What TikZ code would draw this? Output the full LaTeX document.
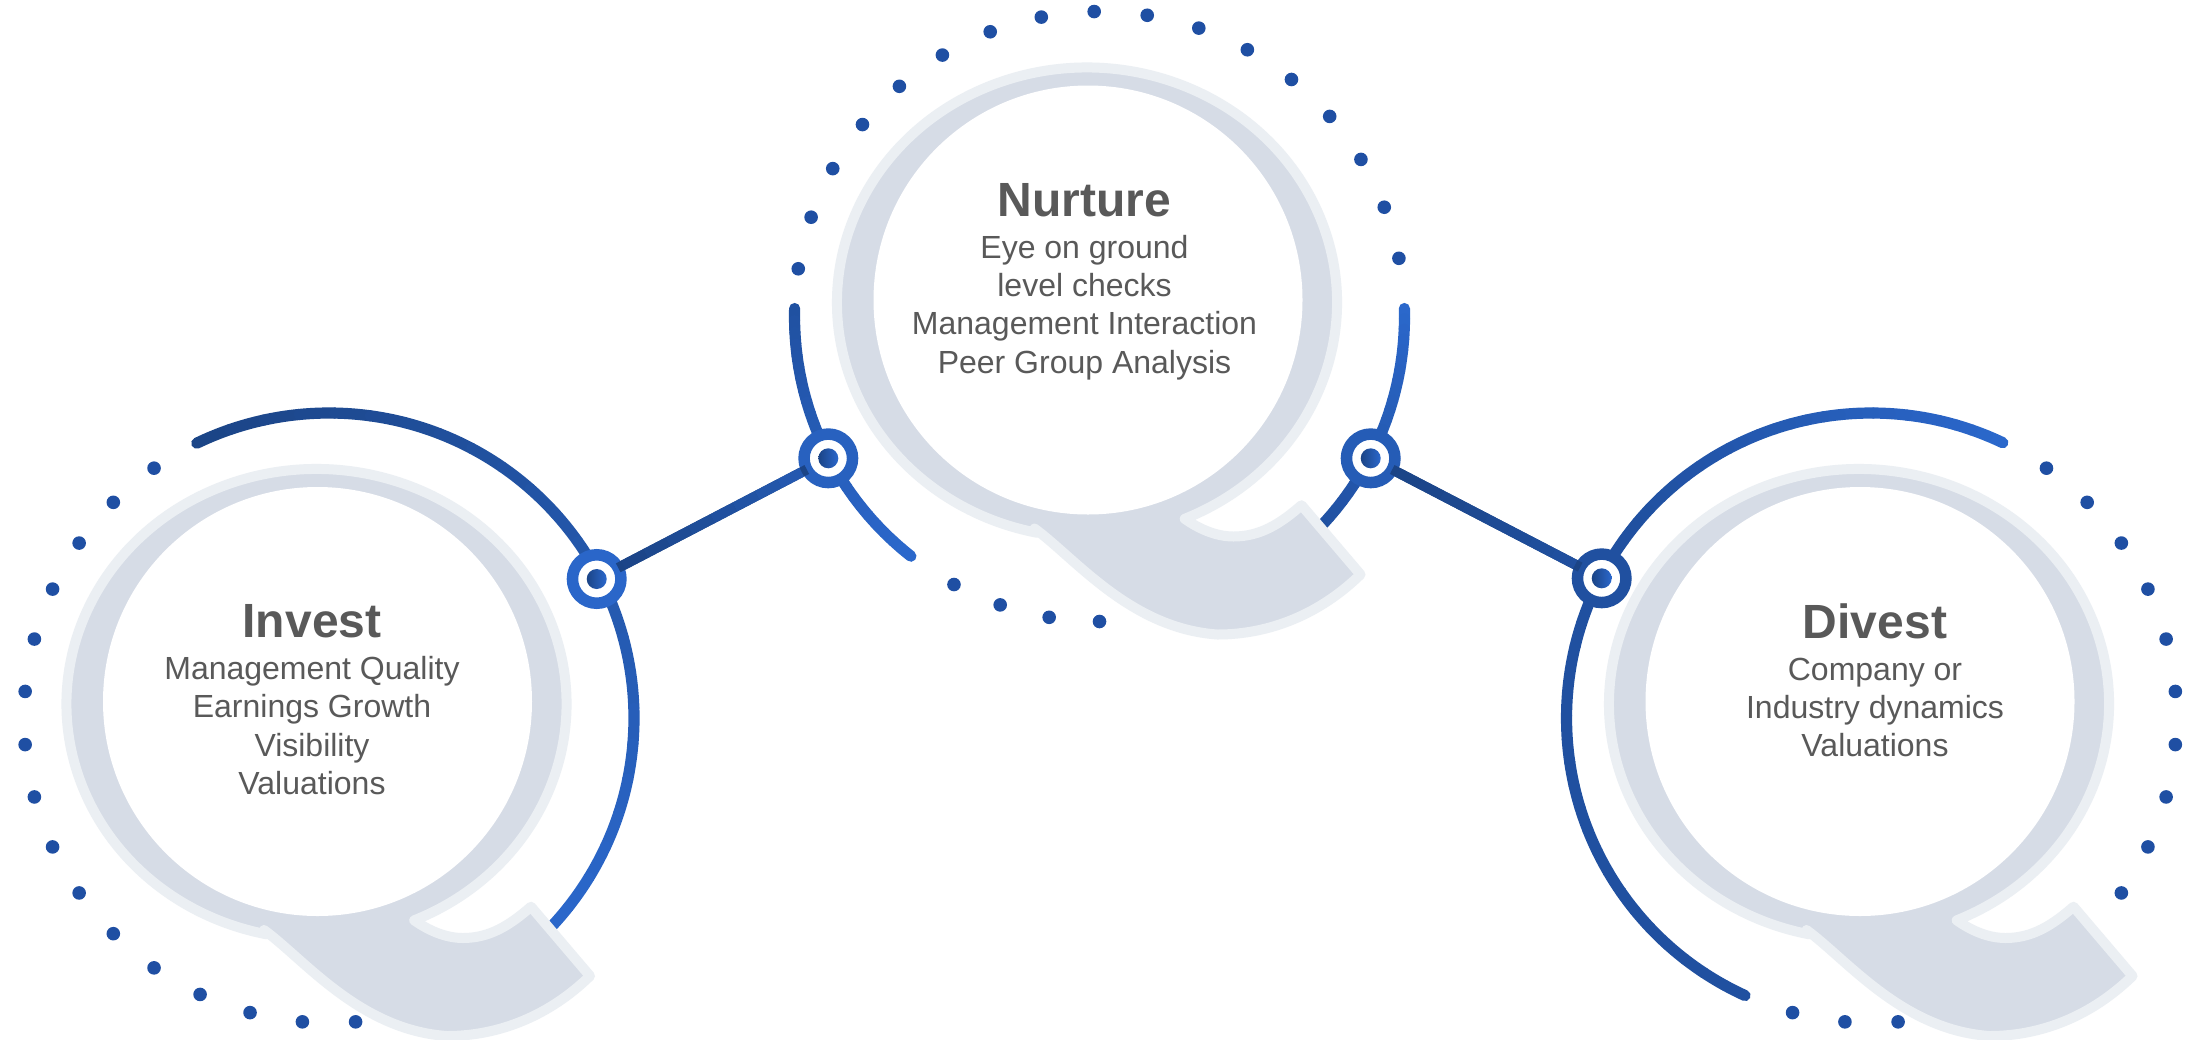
\documentclass[tikz,border=0pt]{standalone}
\usepackage{fontspec}
\setmainfont{Liberation Sans}
\usetikzlibrary{calc}
\definecolor{qfill}{HTML}{D6DCE6}
\definecolor{qedge}{HTML}{EBEFF3}
\definecolor{txt}{HTML}{595959}
\definecolor{darkb}{HTML}{1B4486}
\definecolor{midb}{HTML}{2050A0}
\definecolor{brightb}{HTML}{2B68CC}
\definecolor{dotb}{HTML}{1F4FA3}
\tikzset{
  arcline/.style={line width=5.6pt,line cap=round},
  qshape/.style={fill=qfill,draw=qedge,line width=5pt,line join=round},
  hubring/.style={circle,draw=#1,fill=white,line width=5.75pt,minimum size=24.25pt,inner sep=0,outer sep=0},
  hubdot/.style={circle,minimum size=10pt,inner sep=0,outer sep=0,left color=darkb,right color=brightb},
  headtext/.style={font=\bfseries\fontsize{24}{29}\selectfont,text=txt,inner sep=0,anchor=base},
  bodytext/.style={font=\fontsize{16}{19.15}\selectfont,text=txt,inner sep=0,anchor=base,align=center},
  link/.style={line width=5pt,draw=#1}
}
\newcommand{\gradarc}[7]{%
  \foreach \k in {1,...,24}{%
    \pgfmathsetmacro\ta{#4+(#5-#4)*(\k-1)/24}%
    \pgfmathsetmacro\tb{#4+(#5-#4)*\k/24}%
    \pgfmathsetmacro\pct{(\k-0.5)/24*100}%
    \colorlet{segcol}{#7!\pct!#6}%
    \draw[arcline,segcol] ({#1+#3*cos(\ta)},{#2+#3*sin(\ta)}) arc[start angle=\ta,end angle=\tb,radius=#3];
  }%
}
\newcommand{\dotring}[4]{%
  \foreach \t in {#4}{\fill[dotb] ({#1+#3*cos(\t)},{#2+#3*sin(\t)}) circle[radius=6.8];}%
}
\newcommand{\qglass}[2]{%
  \begin{scope}[shift={(#1,#2)}]
    \path[qshape] ({316.5+250*cos(67)},{704+235*sin(67)})
      arc[start angle=67,end angle=-258.5,x radius=250,y radius=235]
      -- (264,930)
      .. controls (305,960) and (360,1030) .. (447,1036)
      .. controls (500,1036) and (550,1015) .. (590,976)
      -- (531,906.7)
      .. controls (510,925) and (490,938) .. (463,938)
      .. controls (445,938) and (428,930) .. cycle;
    \fill[white] (317.5,701.5) circle[radius=214.5];
  \end{scope}%
}
\newcommand{\gradlink}[4]{%
  \draw[link=#3] (#1) -- (#2);
  \foreach \k in {1,...,8}{%
    \pgfmathsetmacro\sa{0.115+0.77*(\k-1)/8}%
    \pgfmathsetmacro\sb{0.115+0.77*\k/8}%
    \pgfmathsetmacro\pct{(\k-0.5)/8*100}%
    \colorlet{segcol}{#4!\pct!#3}%
    \draw[line width=5pt,segcol] ($(#1)!\sa!(#2)$) -- ($(#1)!\sb!(#2)$);
  }%
}
\begin{document}
\begin{tikzpicture}[x=0.5pt,y=0.5pt,yscale=-1]
\useasboundingbox (0,0) rectangle (2188,1039);
\fill[white] (0,0) rectangle (2188,1039);
% dots
\dotring{329}{718}{305}{85,95,...,235}
\dotring{1099.5}{316.5}{305}{-171,-161,...,-11,90,99.5,109,118.5}
\dotring{1871.5}{718}{305}{-55,-45,...,35,85,95,105}
% solid arcs
\gradarc{329}{718}{305}{-115.7}{45}{darkb}{brightb}
\gradarc{1099.5}{316.5}{305}{181.5}{128.2}{midb}{brightb}
\gradarc{1099.5}{316.5}{305}{-1.5}{45}{brightb}{midb}
\gradarc{1871.5}{718}{305}{-64.5}{-140}{brightb}{midb}
\gradarc{1871.5}{718}{305}{-140}{-245.5}{midb}{midb}
% magnifier shapes
\qglass{0}{0}
\qglass{770.5}{-401.5}
\qglass{1542.5}{0}
% hubs
\node[hubring=brightb!95!darkb] (hubA) at (596.7,579) {};
\node[hubring=brightb!70!midb] (hubB) at (828.3,458.3) {};
\node[hubring=brightb!50!midb] (hubC) at (1370.7,458.3) {};
\node[hubring=midb] (hubD) at (1601.7,578.3) {};
\node[hubdot] (dotA) at (hubA) {};
\node[hubdot] (dotB) at (hubB) {};
\node[hubdot] (dotC) at (hubC) {};
\node[hubdot] (dotD) at (hubD) {};
% connectors
\gradlink{hubA}{hubB}{darkb}{brightb!40!midb}
\gradlink{hubC}{hubD}{darkb}{midb}
% texts
\node[headtext] (investT) at (312,637) {Invest};
\node[bodytext] (investB) at (312,794.5) {Management Quality\\Earnings Growth\\Visibility\\Valuations};
\node[headtext] (nurtureT) at (1084.5,216) {Nurture};
\node[bodytext] (nurtureB) at (1084.5,373) {Eye on ground\\level checks\\Management Interaction\\Peer Group Analysis};
\node[headtext] (divestT) at (1875,638.4) {Divest};
\node[bodytext] (divestB) at (1875,756.6) {Company or\\Industry dynamics\\Valuations};
\end{tikzpicture}
\end{document}
